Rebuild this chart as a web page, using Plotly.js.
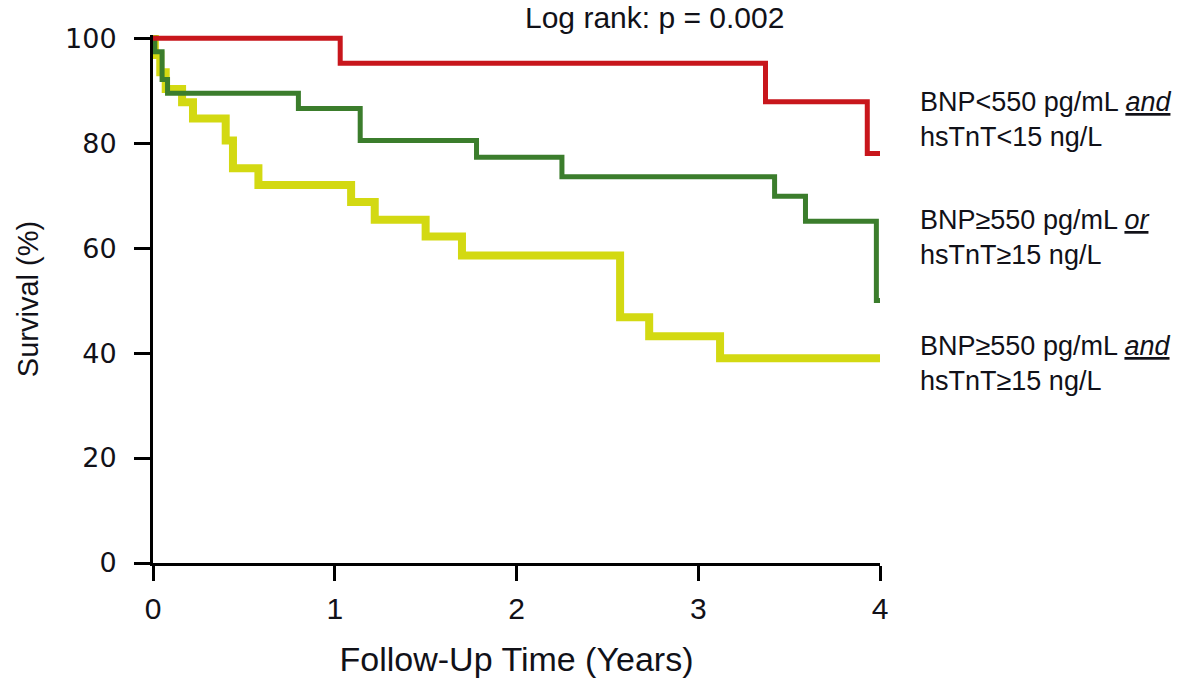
<!DOCTYPE html>
<html>
<head>
<meta charset="utf-8">
<script src="https://cdn.plot.ly/plotly-3.0.1.min.js"></script>
<style>html,body{margin:0;padding:0;background:#fff;}#chart{width:1201px;height:681px;}</style>
</head>
<body>
<div id="chart"></div>
<script>
// Kaplan-Meier step data (years, survival %)
const redTime    = [0, 1.03, 3.37, 3.93, 4.0];
const redSurv    = [100, 95.2, 87.9, 78.0, 78.0];

const greenTime  = [0, 0.01, 0.05, 0.08, 0.80, 1.14, 1.78, 2.25, 3.42, 3.59, 3.98, 4.0];
const greenSurv  = [100, 97.4, 92.1, 89.5, 86.6, 80.5, 77.3, 73.6, 69.9, 65.1, 50.0, 50.0];

const yellowTime = [0, 0.01, 0.04, 0.07, 0.16, 0.22, 0.40, 0.44, 0.58, 1.09, 1.22, 1.50, 1.70, 2.57, 2.73, 3.12, 4.0];
const yellowSurv = [100, 96.8, 93.5, 90.3, 87.8, 84.7, 80.5, 75.2, 72.0, 68.8, 65.4, 62.2, 58.6, 46.8, 43.2, 39.0, 39.0];

const groupLabels = [
  "BNP&lt;550 pg/mL <u><i>and</i></u><br>hsTnT&lt;15 ng/L",
  "BNP≥550 pg/mL <u><i>or</i></u><br>hsTnT≥15 ng/L",
  "BNP≥550 pg/mL <u><i>and</i></u><br>hsTnT≥15 ng/L"
];
const pText = "Log rank: p = 0.002";
const xTicks = [0, 1, 2, 3, 4];
const yTicks = [0, 20, 40, 60, 80, 100];

const sans = "Liberation Sans, Arial, sans-serif";
const txt = '#111118';

const traces = [
  {x: yellowTime, y: yellowSurv, mode: 'lines', line: {shape: 'hv', color: '#d3d912', width: 8}, hoverinfo: 'skip'},
  {x: greenTime, y: greenSurv, mode: 'lines', line: {shape: 'hv', color: '#3b7d2c', width: 5}, hoverinfo: 'skip'},
  {x: redTime, y: redSurv, mode: 'lines', line: {shape: 'hv', color: '#c8161c', width: 5}, hoverinfo: 'skip'}
];

const ys = [0.84, 0.617, 0.377];
const annotations = groupLabels.map((t, i) => ({
  xref: 'paper', yref: 'paper', x: 1.052, y: ys[i], xanchor: 'left', yanchor: 'middle',
  text: t, showarrow: false, align: 'left',
  font: {family: sans, size: 27, color: txt}
}));
annotations.push({
  xref: 'paper', yref: 'paper', x: 0.69, y: 1.034, xanchor: 'center', yanchor: 'middle',
  text: pText, showarrow: false, font: {family: sans, size: 30, color: txt}
});

const layout = {
  width: 1201, height: 681,
  margin: {l: 153, r: 321, t: 35, b: 118},
  paper_bgcolor: '#fff', plot_bgcolor: '#fff',
  showlegend: false,
  xaxis: {
    range: [0, 4], tickvals: xTicks, ticks: 'outside', ticklen: 15, tickwidth: 3, tickcolor: '#000',
    showline: true, linewidth: 3, linecolor: '#000', showgrid: false, zeroline: false,
    tickfont: {family: sans, size: 30, color: txt}, ticklabelstandoff: 2,
    title: {text: 'Follow-Up Time (Years)', font: {family: sans, size: 34, color: txt}, standoff: 24}
  },
  yaxis: {
    range: [0, 100.6], tickvals: yTicks, ticks: 'outside', ticklen: 16, tickwidth: 3, tickcolor: '#000',
    showline: true, linewidth: 3, linecolor: '#000', showgrid: false, zeroline: false,
    tickfont: {family: 'DejaVu Sans, sans-serif', size: 27, color: txt}, ticklabelstandoff: 12,
    title: {text: 'Survival (%)', font: {family: sans, size: 29, color: txt}, standoff: 18}
  },
  annotations: annotations
};

Plotly.newPlot('chart', traces, layout, {displayModeBar: false, staticPlot: true});
</script>
</body>
</html>
